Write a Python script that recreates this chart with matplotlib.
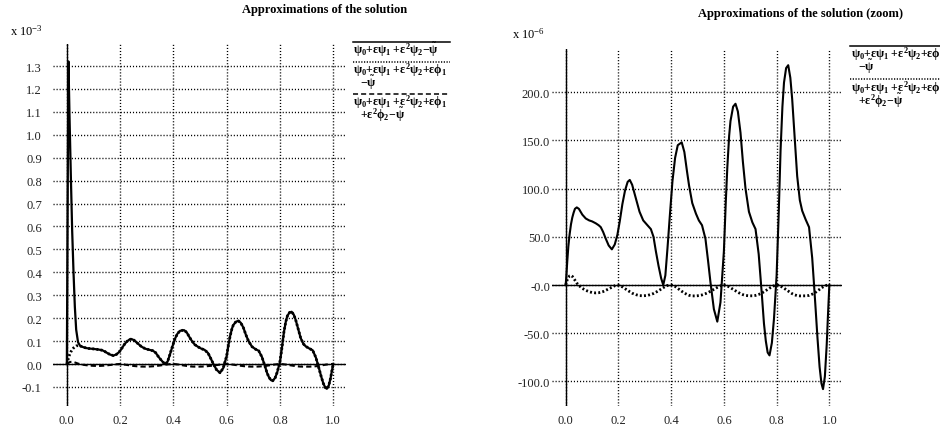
import numpy as np
import matplotlib.pyplot as plt
from matplotlib.lines import Line2D

plt.rcParams['font.family'] = 'Liberation Serif'
plt.rcParams['mathtext.fontset'] = 'custom'
plt.rcParams['mathtext.rm'] = 'Liberation Serif:bold'
plt.rcParams['mathtext.it'] = 'Liberation Serif:bold'
plt.rcParams['mathtext.bf'] = 'Liberation Serif:bold'

# abscissa
x = [0.000, 0.003, 0.006, 0.010, 0.015, 0.020, 0.025, 0.030, 0.035, 0.042,
     0.050, 0.063, 0.076, 0.089, 0.100, 0.114, 0.125, 0.133, 0.142, 0.152,
     0.163, 0.175, 0.186, 0.196, 0.205, 0.215, 0.225, 0.235, 0.243, 0.252,
     0.266, 0.280, 0.294, 0.310, 0.323, 0.333, 0.342, 0.352, 0.362, 0.370,
     0.378, 0.386, 0.395, 0.405, 0.415, 0.425, 0.440, 0.450, 0.460, 0.468,
     0.480, 0.494, 0.505, 0.517, 0.530, 0.540, 0.549, 0.562, 0.575, 0.587,
     0.600, 0.607, 0.613, 0.620, 0.625, 0.635, 0.644, 0.653, 0.663, 0.672,
     0.682, 0.695, 0.708, 0.720, 0.732, 0.744, 0.752, 0.759, 0.766, 0.773,
     0.782, 0.790, 0.800, 0.808, 0.815, 0.822, 0.828, 0.836, 0.844, 0.852,
     0.859, 0.868, 0.878, 0.888, 0.897, 0.910, 0.923, 0.935, 0.942, 0.948,
     0.955, 0.963, 0.970, 0.976, 0.983, 0.990, 0.995, 1.000]

# psi0+eps psi1+eps^2 psi2+eps phi1 - psi~   (x 1e-6)
err_phi1 = [0, 12, 25, 40, 53, 63, 70, 75, 79, 80.5,
            79, 73, 69, 67, 66, 64, 62, 60, 55, 48,
            41, 37, 42, 52, 66, 84, 98, 107, 109, 104,
            90, 76, 67, 62, 58, 50, 35, 20, 7, 0,
            10, 38, 72, 108, 132, 145, 148, 138, 118, 103,
            85, 74, 67, 62, 48, 25, 3, -25, -38, -18,
            35, 85, 122, 155, 170, 185, 188, 180, 158, 128,
            100, 76, 65, 58, 32, -10, -40, -58, -70, -73,
            -60, -35, 10, 75, 140, 185, 210, 225, 228, 215,
            193, 155, 113, 88, 77, 68, 60, 28, 0, -25,
            -55, -85, -102, -108, -95, -62, -30, 0]

# psi0+eps psi1+eps^2 psi2+eps phi1+eps^2 phi2 - psi~   (x 1e-6)
err_phi2 = [0, 3, 5.5, 8, 9.5, 10, 9, 7, 5, 2,
            -0.5, -3.5, -5.5, -7, -7.8, -8.2, -8, -7.5, -6.8, -5.5,
            -4, -2.3, -0.8, 0, -0.5, -2, -3.8, -5.5, -7, -8.5,
            -10, -11, -11.2, -10.8, -9.8, -8.8, -7.5, -6, -4.2, -2.8,
            -1.5, -0.5, 0, -0.3, -1.5, -3.5, -6.5, -8.3, -9.8, -10.7,
            -11.3, -11.3, -11, -10.3, -9, -7.8, -6.5, -4.5, -2.5, -0.8,
            0, -0.3, -1, -2, -2.8, -4.5, -6, -7.5, -9, -10,
            -10.8, -11.2, -11.2, -10.8, -9.8, -8.3, -7, -5.8, -4.5, -3.3,
            -1.8, -0.8, 0, -0.4, -1.2, -2.3, -3.3, -4.8, -6.3, -7.8,
            -9, -10.2, -11, -11.3, -11.3, -11.2, -10.8, -9.5, -8.5, -7.5,
            -6, -4.5, -3, -2, -1, -0.3, 0, 0]

# boundary layer left uncorrected near x=0   (x 1e-3)
layer = [0, 0.69, 1.295, 1.04, 0.767, 0.517, 0.33, 0.175, 0.071, 0.0145, 0]

xticks = [0.0, 0.2, 0.4, 0.6, 0.8, 1.0]
xlabels = ['0.0', '0.2', '0.4', '0.6', '0.8', '1.0']
yticks1 = [-0.1, 0.0, 0.1, 0.2, 0.3, 0.4, 0.5, 0.6, 0.7, 0.8, 0.9, 1.0, 1.1, 1.2, 1.3]
ylabels1 = ['-0.1', '0.0', '0.1', '0.2', '0.3', '0.4', '0.5', '0.6', '0.7',
            '0.8', '0.9', '1.0', '1.1', '1.2', '1.3']
yticks2 = [-100, -50, 0, 50, 100, 150, 200]
ylabels2 = ['-100.0', '-50.0', '-0.0', '50.0', '100.0', '150.0', '200.0']

x = np.array(x)
err_phi1 = np.array(err_phi1)
err_phi2 = np.array(err_phi2)
err_psi = err_phi1 * 1e-3
err_psi[:len(layer)] += np.array(layer)

W, H = 940, 431
fig = plt.figure(figsize=(W / 100, H / 100), dpi=100)
ax1 = fig.add_axes([53 / W, 1 - 407 / H, 293 / W, 362 / H])
ax2 = fig.add_axes([552 / W, 1 - 407 / H, 290 / W, 357 / H])

grid_dots = (0, (0.8, 1.4))
curve_dots = (0, (0.7, 0.8))
curve_dash = (0, (2.5, 1.5))


def style(ax, yt, yl, ylim, pad):
    ax.set_xlim(-0.052, 1.048)
    ax.set_ylim(*ylim)
    ax.set_xticks(xticks)
    ax.set_xticklabels(xlabels)
    ax.set_yticks(yt)
    ax.set_yticklabels(yl)
    for s in ax.spines.values():
        s.set_visible(False)
    ax.tick_params(length=0, labelsize=9, colors='#222222')
    ax.tick_params(axis='y', pad=pad)
    ax.tick_params(axis='x', pad=6)
    ax.grid(True, color='black', linestyle=grid_dots, lw=1)
    ax.axhline(0, color='black', lw=1)
    ax.axvline(0, color='black', lw=1)


style(ax1, yticks1, ylabels1, (-0.183, 1.396), 8)
style(ax2, yticks2, ylabels2, (-125.5, 244.8), 1.5)

ax1.plot(x, err_phi1 * 1e-3, color='black', lw=2, linestyle=curve_dots)
ax1.plot(x, err_phi2 * 1e-3, color='black', lw=1.5, linestyle=curve_dash)
ax1.plot(x, err_psi, color='black', lw=1.6)

ax2.plot(x, err_phi1, color='black', lw=1.5)
ax2.plot(x, err_phi2, color='black', lw=2, linestyle=curve_dots)

fig.text(325 / W, 1 - 4 / H, 'Approximations of the solution',
         ha='center', va='top', weight='bold', size=9)
fig.text(801 / W, 1 - 8 / H, 'Approximations of the solution (zoom)',
         ha='center', va='top', weight='bold', size=9)
fig.text(10 / W, 1 - 36 / H, r'x 10$^{\mathregular{-3}}$', va='baseline', size=9)
fig.text(512 / W, 1 - 38.5 / H, r'x 10$^{\mathregular{-6}}$', va='baseline', size=9)

lab1 = r'$\psi_0{+}\varepsilon\psi_1\ {+}\varepsilon^2\psi_2{-}\tilde{\psi}$'
lab2 = r'$\psi_0{+}\varepsilon\psi_1\ {+}\varepsilon^2\psi_2{+}\varepsilon\phi_1$'
lab2b = r'${-}\tilde{\psi}$'
lab3b = r'${+}\varepsilon^2\phi_2{-}\tilde{\psi}$'


def entry(x0, x1, yline, style_, lines):
    fig.add_artist(Line2D([x0 / W, x1 / W], [1 - yline / H, 1 - yline / H],
                          color='black', lw=1.1, linestyle=style_,
                          transform=fig.transFigure))
    for dx, dy, s in lines:
        fig.text((x0 + dx) / W, 1 - (yline + dy) / H, s,
                 va='baseline', size=8.5)


entry(353, 450, 42.5, '-', [(0, 11.5, lab1)])
entry(353, 450, 62.5, (0, (0.8, 1)), [(0, 11.5, lab2), (7, 25, lab2b)])
entry(353, 450, 94.5, (0, (3.3, 2)), [(0, 11.5, lab2), (7, 25, lab3b)])

entry(850, 945, 46.5, '-', [(1, 11.5, lab2), (8, 25, lab2b)])
entry(850, 945, 80, (0, (0.8, 1)), [(1, 11.5, lab2), (8, 25, lab3b)])

fig.savefig('out.png', dpi=100)
